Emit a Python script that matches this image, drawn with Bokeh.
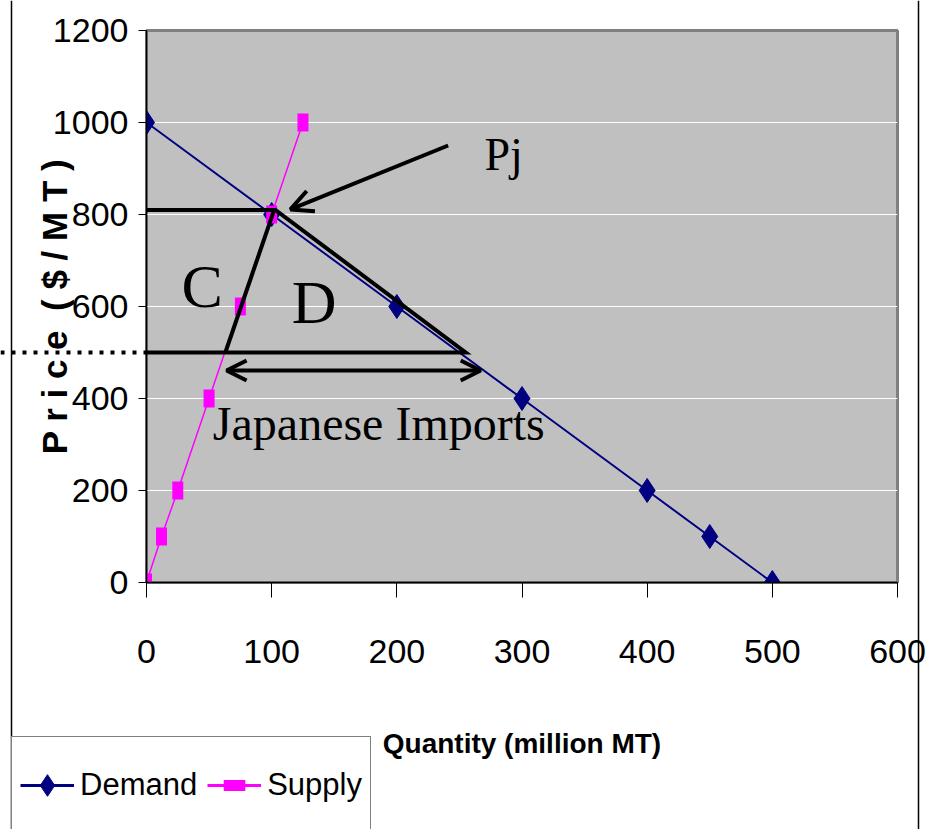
import math

from bokeh.plotting import figure
from bokeh.layouts import column
from bokeh.models import (Legend, LegendItem, Arrow, OpenHead, Label,
                          FixedTicker, Range1d)
from bokeh.embed import file_html
from bokeh.resources import INLINE

# Steel market: demand and supply schedules
demand_q = [0, 100, 200, 300, 400, 450, 500]
demand_p = [1000, 800, 600, 400, 200, 100, 0]
supply_q = [0, 12, 25, 50, 75, 100, 125]
supply_p = [0, 100, 200, 400, 600, 800, 1000]

x_ticks = [0, 100, 200, 300, 400, 500, 600]
y_ticks = [0, 200, 400, 600, 800, 1000, 1200]

# Quota outline (price in $/MT, quantity in million MT)
pj_price = 810
world_price = 500
pj_q = [102, 103]            # supply side / demand side at Pj
world_q = [63, 255]          # supply side / demand side at world price
imports_y = 461
imports_q = [64, 267]
pj_arrow_q = [241, 115]
pj_arrow_p = [950, 811]

# Annotation texts
note_text = ["Pj", "C", "D", "Japanese Imports"]
note_q = [270, 28, 116, 53]
note_p = [931, 644, 609, 346]
note_size = ["46px", "62px", "62px", "48px"]

SANS = "'Liberation Sans', Arial, sans-serif"
SERIF = "'Liberation Serif', 'Times New Roman', serif"
NAVY = "#000080"
MAGENTA = "#FF00FF"

W, H = 935, 829
FRAME_L, FRAME_R, FRAME_T, FRAME_B = 146, 897, 30, 582
X_MAX, Y_MAX = 600, 1200

# ---------------------------------------------------------------- chart
p = figure(width=W, height=H, x_range=Range1d(0, X_MAX), y_range=Range1d(0, Y_MAX),
           output_backend="svg", toolbar_location=None,
           min_border_left=FRAME_L, min_border_right=W - FRAME_R,
           min_border_top=FRAME_T, min_border_bottom=H - FRAME_B)
p.frame_align = False
p.background_fill_color = "#C0C0C0"
p.border_fill_color = "white"
p.outline_line_color = "#808080"
p.outline_line_width = 3

p.xgrid.visible = False
p.ygrid.ticker = FixedTicker(ticks=y_ticks)
p.ygrid.grid_line_color = "white"
p.ygrid.grid_line_width = 1.2

for ax, ticks in ((p.xaxis[0], x_ticks), (p.yaxis[0], y_ticks)):
    ax.ticker = FixedTicker(ticks=ticks)
    ax.axis_line_color = "black"
    ax.axis_line_width = 1.5
    ax.major_tick_line_color = "black"
    ax.major_tick_in = 0
    ax.minor_tick_line_color = None
    ax.major_label_text_font = SANS
    ax.major_label_text_font_size = "34px"
    ax.major_label_text_color = "black"
    ax.axis_label_text_font = SANS
    ax.axis_label_text_font_style = "bold"
    ax.axis_label_text_color = "black"

p.xaxis.major_tick_out = 15
p.xaxis.major_label_standoff = 42
p.xaxis.axis_label = "Quantity (million MT)"
p.xaxis.axis_label_text_font_size = "28px"
p.xaxis.axis_label_standoff = 62

p.yaxis.major_tick_out = 8
p.yaxis.major_label_standoff = 10
p.yaxis.axis_label = "P r i c e \u00a0( $ / M T )"
p.yaxis.axis_label_text_font_size = "35px"
p.yaxis.axis_label_standoff = -24

# Demand and supply curves
p.line(demand_q, demand_p, line_color=NAVY, line_width=2)
p.scatter(demand_q, demand_p, marker="diamond", size=24, fill_color=NAVY, line_color=NAVY)
p.line(supply_q, supply_p, line_color=MAGENTA, line_width=1.5)
p.scatter(supply_q, supply_p, marker="dash", angle=math.pi / 2, size=18,
          line_color=MAGENTA, line_width=11)

# Quota triangle and the trapezoid to its left
p.line([0, pj_q[1], world_q[1], 0], [pj_price, pj_price, world_price, world_price],
       line_color="black", line_width=4, line_join="miter")
p.line([world_q[0], pj_q[0]], [world_price, pj_price], line_color="black", line_width=4)

# Arrows
p.add_layout(Arrow(start=OpenHead(size=20, line_width=4, line_color="black"),
                   end=OpenHead(size=20, line_width=4, line_color="black"),
                   x_start=imports_q[0], y_start=imports_y,
                   x_end=imports_q[1], y_end=imports_y,
                   line_width=4, line_color="black"))
p.add_layout(Arrow(end=OpenHead(size=22, line_width=4, line_color="black"),
                   x_start=pj_arrow_q[0], y_start=pj_arrow_p[0],
                   x_end=pj_arrow_q[1], y_end=pj_arrow_p[1],
                   line_width=4, line_color="black"))

for t, xq, yp, fs in zip(note_text, note_q, note_p, note_size):
    p.add_layout(Label(x=xq, y=yp, text=t, text_font=SERIF, text_font_size=fs,
                       text_color="black", text_align="left", text_baseline="alphabetic"))

# ------------------------------------------- page layer (pixel coordinates)
deco = figure(width=W, height=H, x_range=Range1d(0, W), y_range=Range1d(H, 0),
              output_backend="svg", toolbar_location=None,
              x_axis_type=None, y_axis_type=None,
              min_border_left=0, min_border_right=0, min_border_top=0, min_border_bottom=0)
deco.frame_align = False
deco.background_fill_alpha = 0
deco.border_fill_alpha = 0
deco.outline_line_color = None
deco.margin = (-H, 0, 0, 0)

# chart-area border
deco.segment(x0=[11, 918], y0=[0, 0], x1=[11, 918], y1=[H, H],
             line_color="black", line_width=1.5)

# world price carried out past the price axis
world_px = FRAME_T + (Y_MAX - world_price) / Y_MAX * (FRAME_B - FRAME_T)
deco.segment(x0=[0], y0=[world_px], x1=[FRAME_L], y1=[world_px],
             line_color="black", line_width=4, line_dash="4 7")

# legend swatches (the curves themselves live on the chart)
dl = deco.line(demand_q, demand_p, line_color=NAVY, line_width=3, visible=False)
ds = deco.scatter(demand_q, demand_p, marker="diamond", size=24,
                  fill_color=NAVY, line_color=NAVY, visible=False)
sl = deco.line(supply_q, supply_p, line_color=MAGENTA, line_width=3, visible=False)
ss = deco.scatter(supply_q, supply_p, marker="dash", angle=math.pi / 2, size=18,
                  line_color=MAGENTA, line_width=11, visible=False)

legend = Legend(items=[LegendItem(label="Demand", renderers=[dl, ds]),
                       LegendItem(label="Supply", renderers=[sl, ss])],
                location=(11, -5), orientation="horizontal",
                border_line_color="black", border_line_width=1.2,
                background_fill_color="white", background_fill_alpha=1,
                inactive_fill_alpha=0,
                padding=8, spacing=10, margin=0,
                glyph_width=54, glyph_height=80, label_height=80, label_standoff=6,
                label_text_font=SANS, label_text_font_size="31px",
                label_text_color="black")
deco.add_layout(legend)

page = column(p, deco, spacing=0)
open("out.html", "w").write(file_html(page, INLINE))
